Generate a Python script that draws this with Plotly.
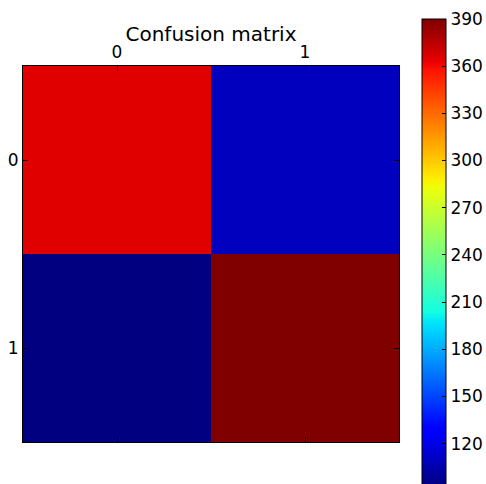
import plotly.graph_objects as go

# Confusion matrix counts (rows = true label, columns = predicted label)
labels = ["0", "1"]
counts = [
    [365, 109],
    [93, 390],
]
cbar_ticks = [120, 150, 180, 210, 240, 270, 300, 330, 360, 390]


def jet_scale():
    # matplotlib "jet" segment data, rebuilt as a Plotly colorscale
    red = [(0, 0), (0.35, 0), (0.66, 1), (0.89, 1), (1, 0.5)]
    green = [(0, 0), (0.125, 0), (0.375, 1), (0.64, 1), (0.91, 0), (1, 0)]
    blue = [(0, 0.5), (0.11, 1), (0.34, 1), (0.65, 0), (1, 0)]

    def interp(seg, t):
        for (x0, y0), (x1, y1) in zip(seg[:-1], seg[1:]):
            if x0 <= t <= x1:
                return y0 if x1 == x0 else y0 + (y1 - y0) * (t - x0) / (x1 - x0)
        return seg[-1][1]

    stops = sorted({p for seg in (red, green, blue) for p, _ in seg})
    return [
        [t, "rgb(%d,%d,%d)" % tuple(round(255 * interp(s, t)) for s in (red, green, blue))]
        for t in stops
    ]


fig = go.Figure(
    go.Heatmap(
        z=counts,
        x=[0, 1],
        y=[0, 1],
        colorscale=jet_scale(),
        zmin=min(min(r) for r in counts),
        zmax=max(max(r) for r in counts),
        colorbar=dict(
            x=(421.5 - 23) / 376,
            xanchor="left",
            y=(442 - 19) / 376,
            yanchor="top",
            thickness=24,
            thicknessmode="pixels",
            len=467,
            lenmode="pixels",
            outlinewidth=1,
            outlinecolor="black",
            tickvals=cbar_ticks,
            ticks="inside",
            ticklen=4,
            tickcolor="black",
            tickfont=dict(size=17, color="black", family="DejaVu Sans"),
            xpad=0,
            ypad=0,
        ),
        hoverongaps=False,
    )
)

axis_common = dict(
    showline=True,
    linecolor="black",
    linewidth=1,
    mirror="ticks",
    ticks="inside",
    ticklen=5,
    tickcolor="black",
    showgrid=False,
    zeroline=False,
    tickvals=[0, 1],
    ticktext=labels,
    tickfont=dict(size=17, color="black", family="DejaVu Sans"),
    range=[-0.5, 1.5],
)

fig.update_layout(
    width=486,
    height=484,
    margin=dict(l=23, r=87, t=66, b=42, autoexpand=False),
    paper_bgcolor="white",
    plot_bgcolor="white",
    title=dict(
        text="Confusion matrix",
        x=211 / 486,
        xanchor="center",
        y=1 - 34 / 484,
        yanchor="middle",
        font=dict(size=20, color="black", family="DejaVu Sans"),
    ),
    xaxis=dict(axis_common, side="top"),
    yaxis=dict(axis_common, range=[1.5, -0.5]),
)

fig.write_html("out.html")
